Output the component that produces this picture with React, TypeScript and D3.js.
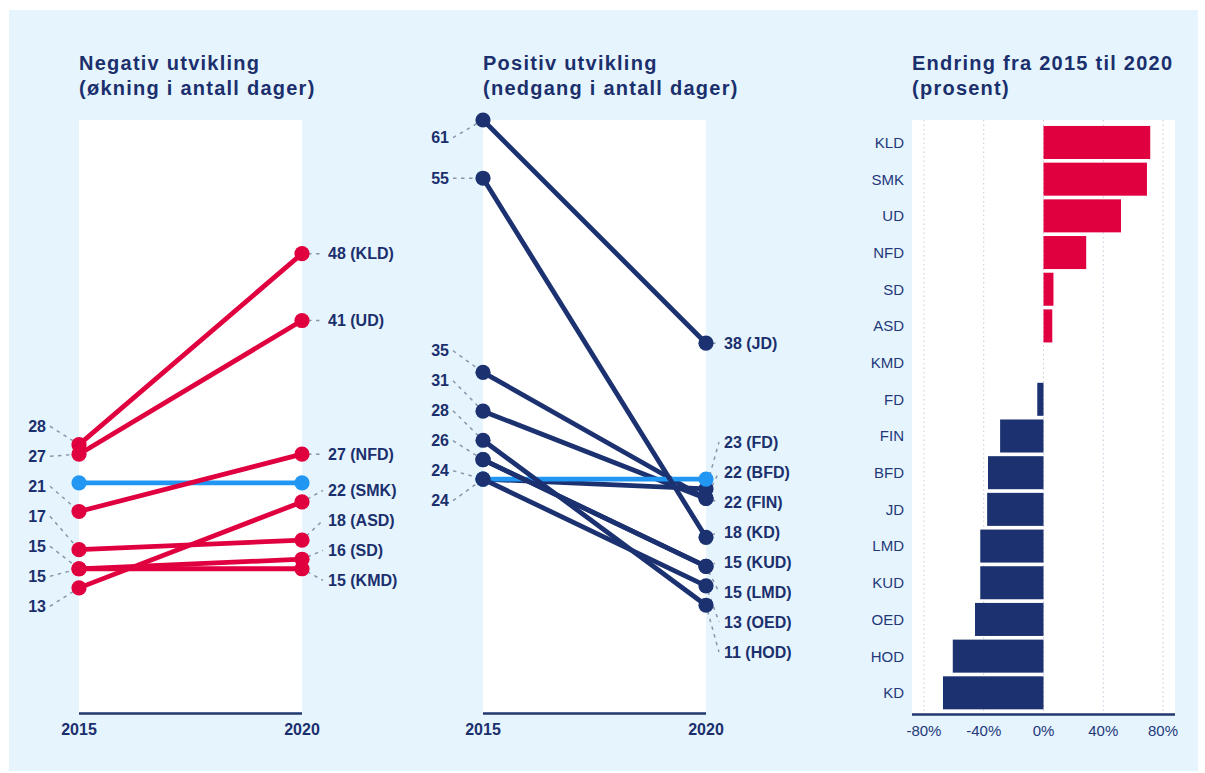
import React from "react";
import * as d3 from "d3";

// ---------- data ----------
const years = ["2015", "2020"];

// Negativ utvikling (økning i antall dager)
const negNames = ["ASD", "KLD", "KMD", "NFD", "SD", "SMK", "UD"];
const neg2015 = [17, 28, 15, 21, 15, 13, 27];
const neg2020 = [18, 48, 15, 27, 16, 22, 41];

// Positiv utvikling (nedgang i antall dager)
const posNames = ["BFD", "FD", "FIN", "HOD", "JD", "KD", "KUD", "LMD", "OED"];
const pos2015 = [35, 24, 31, 28, 61, 55, 26, 26, 24];
const pos2020 = [22, 23, 22, 11, 38, 18, 15, 15, 13];
const posLeftLabelShown = [true, true, true, true, true, true, true, false, true];

// reference line (gjennomsnitt)
const refName = "Gjennomsnitt";
const ref2015 = 24;
const ref2020 = 24;

// bar chart category order (top to bottom)
const barOrder = ["KLD", "SMK", "UD", "NFD", "SD", "ASD", "KMD", "FD", "FIN", "BFD", "JD", "LMD", "KUD", "OED", "HOD", "KD"];
const barTicks = [-80, -40, 0, 40, 80];

// ---------- style ----------
const W = 1205;
const H = 773;
const NAVY = "#1b2f6d";
const RED = "#e1003f";
const DARK = "#1b3170";
const LIGHT = "#2196f3";
const BG = "#e6f5fd";
const LEADER = "#8b94aa";
const FONT = "'Liberation Sans', Arial, Helvetica, sans-serif";
const PLOT_TOP = 120;
const PLOT_BOTTOM = 712;

type Series = { name: string; v0: number; v1: number; color: string; leftLabel: boolean; isRef: boolean };

function repel(ys: number[], gap: number, minY: number, maxY: number): number[] {
  const order = ys.map((_, i) => i).sort((a, b) => ys[a] - ys[b]);
  type C = { members: number[]; lo: number; hi: number };
  let clusters: C[] = order.map((i) => ({ members: [i], lo: ys[i], hi: ys[i] }));
  const start = (c: C) => {
    const n = c.members.length;
    const s = (c.lo + c.hi) / 2 - ((n - 1) / 2) * gap;
    return Math.min(Math.max(s, minY), maxY - (n - 1) * gap);
  };
  let merged = true;
  while (merged) {
    merged = false;
    for (let k = 0; k < clusters.length - 1; k++) {
      const a = clusters[k];
      const b = clusters[k + 1];
      const aEnd = start(a) + (a.members.length - 1) * gap;
      if (start(b) - aEnd < gap) {
        clusters.splice(k, 2, { members: [...a.members, ...b.members], lo: Math.min(a.lo, b.lo), hi: Math.max(a.hi, b.hi) });
        merged = true;
        break;
      }
    }
  }
  const out = new Array(ys.length).fill(0);
  clusters.forEach((c) => {
    const s = start(c);
    c.members.forEach((m, j) => (out[m] = s + j * gap));
  });
  return out;
}

function shorten(x1: number, y1: number, x2: number, y2: number, d: number) {
  const dx = x2 - x1;
  const dy = y2 - y1;
  const L = Math.hypot(dx, dy) || 1;
  return [x2 - (dx / L) * d, y2 - (dy / L) * d];
}

function buildSeries(names: string[], a: number[], b: number[], color: string, shown?: boolean[]): Series[] {
  const s: Series[] = names.map((n, i) => ({ name: n, v0: a[i], v1: b[i], color, leftLabel: shown ? shown[i] : true, isRef: false }));
  s.push({ name: refName, v0: ref2015, v1: ref2020, color: LIGHT, leftLabel: false, isRef: true });
  return s.sort((p, q) => (p.name < q.name ? -1 : p.name > q.name ? 1 : 0));
}

function Title({ x, lines }: { x: number; lines: string[] }) {
  return (
    <text x={x} y={70} fill={NAVY} fontFamily={FONT} fontWeight="bold" fontSize={20} letterSpacing={1.25}>
      {lines.map((l, i) => (
        <tspan key={i} x={x} y={70 + i * 25}>
          {l}
        </tspan>
      ))}
    </text>
  );
}

function SlopePanel({ series, x0, x1, yMax, title, leftGap, rightGap }: { series: Series[]; x0: number; x1: number; yMax: number; title: string[]; leftGap: number; rightGap: number }) {
  const x = d3.scalePoint<string>().domain(years).range([x0, x1]);
  const y = d3.scaleLinear().domain([0, yMax]).range([PLOT_BOTTOM, PLOT_TOP]);
  const line = d3
    .line<[string, number]>()
    .x((d) => x(d[0]) as number)
    .y((d) => y(d[1]));
  const xa = x(years[0]) as number;
  const xb = x(years[1]) as number;

  const leftS = series.filter((s) => !s.isRef && s.leftLabel);
  const leftY = repel(leftS.map((s) => y(s.v0)), 30, PLOT_TOP + 17.7, PLOT_BOTTOM - 10);
  const rightS = series.filter((s) => !s.isRef);
  const rightY = repel(rightS.map((s) => y(s.v1)), 30, PLOT_TOP + 17.7, PLOT_BOTTOM - 10);

  return (
    <g>
      <rect x={xa} y={PLOT_TOP} width={xb - xa} height={PLOT_BOTTOM - PLOT_TOP} fill="#ffffff" />
      <Title x={xa} lines={title} />
      {/* leader segments */}
      {leftS.map((s, i) => {
        const px = xa;
        const py = y(s.v0);
        const sx = xa - leftGap + 4;
        const [ex, ey] = shorten(sx, leftY[i], px, py, 6);
        return <line key={"ll" + s.name} x1={sx} y1={leftY[i]} x2={ex} y2={ey} stroke={LEADER} strokeWidth={1.5} strokeDasharray="3.5,4.5" />;
      })}
      {rightS.map((s, i) => {
        const px = xb;
        const py = y(s.v1);
        const sx = xb + rightGap - 5;
        const [ex, ey] = shorten(sx, rightY[i], px, py, 6);
        return <line key={"rl" + s.name} x1={ex} y1={ey} x2={sx} y2={rightY[i]} stroke={LEADER} strokeWidth={1.5} strokeDasharray="3.5,4.5" />;
      })}
      {series.map((s) => (
        <path
          key={"p" + s.name}
          d={line([[years[0], s.v0], [years[1], s.v1]]) as string}
          stroke={s.color}
          strokeWidth={4.8}
          fill="none"
          strokeLinecap="round"
        />
      ))}
      {series.map((s) => (
        <g key={"c" + s.name}>
          <circle cx={xa} cy={y(s.v0)} r={7.6} fill={s.color} />
          <circle cx={xb} cy={y(s.v1)} r={7.6} fill={s.color} />
        </g>
      ))}
      {leftS.map((s, i) => (
        <text key={"lt" + s.name} x={xa - leftGap} y={leftY[i]} dy="0.36em" textAnchor="end" fill={NAVY} fontFamily={FONT} fontWeight="bold" fontSize={16}>
          {s.v0}
        </text>
      ))}
      {rightS.map((s, i) => (
        <text key={"rt" + s.name} x={xb + rightGap} y={rightY[i]} dy="0.36em" textAnchor="start" fill={NAVY} fontFamily={FONT} fontWeight="bold" fontSize={16}>
          {`${s.v1} (${s.name})`}
        </text>
      ))}
      <line x1={xa} x2={xb} y1={713.5} y2={713.5} stroke="#22386f" strokeWidth={2.6} />
      {years.map((yr) => (
        <text key={yr} x={x(yr) as number} y={735} textAnchor="middle" fill={NAVY} fontFamily={FONT} fontWeight="bold" fontSize={16}>
          {yr}
        </text>
      ))}
    </g>
  );
}

function BarPanel() {
  const all = new Map<string, [number, number]>();
  negNames.forEach((n, i) => all.set(n, [neg2015[i], neg2020[i]]));
  posNames.forEach((n, i) => all.set(n, [pos2015[i], pos2020[i]]));
  const pct = (n: string) => {
    const v = all.get(n)!;
    return ((v[1] - v[0]) / v[0]) * 100;
  };
  const x = d3.scaleLinear().domain([-88, 88]).range([912, 1175]);
  const y = d3.scaleBand<string>().domain(barOrder).range([122.3, 713]).paddingInner(0.1).paddingOuter(0.1);
  return (
    <g>
      <rect x={912} y={PLOT_TOP} width={1175 - 912} height={PLOT_BOTTOM - PLOT_TOP + 1} fill="#ffffff" />
      <Title x={912} lines={["Endring fra 2015 til 2020", "(prosent)"]} />
      {barTicks.map((t) => (
        <line key={"g" + t} x1={x(t)} x2={x(t)} y1={PLOT_TOP} y2={713} stroke="#c9c8dd" strokeWidth={1} strokeDasharray="1.5,3" />
      ))}
      {barOrder.map((n) => {
        const v = pct(n);
        const x0 = x(Math.min(0, v));
        const w = Math.abs(x(v) - x(0));
        return w > 0.01 ? (
          <rect key={n} x={x0} y={y(n)} width={w} height={y.bandwidth()} fill={v > 0 ? RED : DARK} />
        ) : null;
      })}
      {barOrder.map((n) => (
        <text key={"t" + n} x={904} y={(y(n) as number) + y.bandwidth() / 2} dy="0.36em" textAnchor="end" fill="#23387a" fontFamily={FONT} fontSize={15}>
          {n}
        </text>
      ))}
      <line x1={912} x2={1175} y1={714.5} y2={714.5} stroke="#22386f" strokeWidth={2.6} />
      {barTicks.map((t) => (
        <text key={"tl" + t} x={x(t)} y={735.5} textAnchor="middle" fill="#23387a" fontFamily={FONT} fontSize={15}>
          {`${t}%`}
        </text>
      ))}
    </g>
  );
}

export default function App() {
  const negSeries = buildSeries(negNames, neg2015, neg2020, RED);
  const posSeries = buildSeries(posNames, pos2015, pos2020, DARK, posLeftLabelShown);
  return (
    <svg width={W} height={H} style={{ position: "absolute", left: 0, top: 0, background: "#ffffff" }}>
      <rect x={0} y={0} width={W} height={H} fill="#ffffff" />
      <rect x={9} y={10} width={1189} height={761} fill={BG} />
      <SlopePanel series={negSeries} x0={79} x1={302} yMax={62} title={["Negativ utvikling", "(økning i antall dager)"]} leftGap={33} rightGap={26} />
      <SlopePanel series={posSeries} x0={483} x1={706} yMax={61} title={["Positiv utvikling", "(nedgang i antall dager)"]} leftGap={34} rightGap={18} />
      <BarPanel />
    </svg>
  );
}
